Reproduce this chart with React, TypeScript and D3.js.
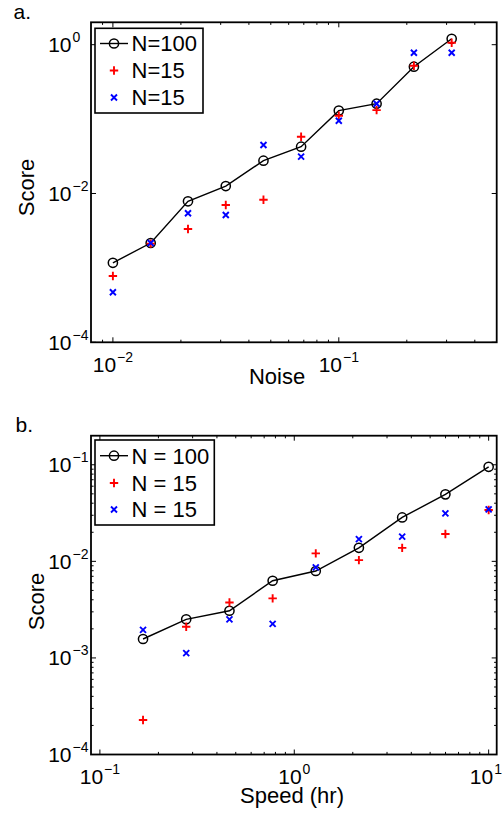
import React from "react";
import * as d3 from "d3";

// ---------- Data ----------
const noiseX = [0.01, 0.0147, 0.0215, 0.0316, 0.0464, 0.0681, 0.1, 0.147, 0.215, 0.316];
const noiseN100 = [1.17e-3, 2.16e-3, 7.85e-3, 0.0126, 0.0276, 0.0426, 0.13, 0.161, 0.506, 1.2];
const noiseN15a = [7.8e-4, 2.12e-3, 3.33e-3, 7.0e-3, 8.26e-3, 0.058, 0.111, 0.132, 0.522, 1.06];
const noiseN15b = [4.7e-4, 2.16e-3, 5.42e-3, 5.14e-3, 0.0449, 0.0313, 0.095, 0.161, 0.78, 0.78];

const speedX = [0.1667, 0.278, 0.464, 0.774, 1.29, 2.15, 3.59, 5.99, 10];
const speedN100 = [1.57e-3, 2.51e-3, 3.08e-3, 6.3e-3, 7.94e-3, 0.0138, 0.0285, 0.0494, 0.0953];
const speedN15a = [2.28e-4, 2.1e-3, 3.75e-3, 4.14e-3, 0.0121, 0.0103, 0.0138, 0.0192, 0.034];
const speedN15b = [1.95e-3, 1.12e-3, 2.51e-3, 2.25e-3, 8.67e-3, 0.017, 0.018, 0.0314, 0.0345];

const topXTicks = [0.01, 0.1];
const topXExp = ["−2", "−1"];
const topYTicks = [1e-4, 1e-2, 1];
const topYExp = ["−4", "−2", "0"];
const botXTicks = [0.1, 1, 10];
const botXExp = ["−1", "0", "1"];
const botYTicks = [1e-4, 1e-3, 1e-2, 1e-1];
const botYExp = ["−4", "−3", "−2", "−1"];

const topLegend = ["N=100", "N=15", "N=15"];
const botLegend = ["N = 100", "N = 15", "N = 15"];

const FONT = "'Liberation Sans', Arial, Helvetica, sans-serif";

function minorTicks(domain: number[]) {
  const out: number[] = [];
  const lo = Math.floor(Math.log10(domain[0]));
  const hi = Math.ceil(Math.log10(domain[1]));
  for (let d = lo; d <= hi; d++) {
    for (let m = 2; m <= 9; m++) {
      const v = m * Math.pow(10, d);
      if (v > domain[0] * 1.0001 && v < domain[1] * 0.9999) out.push(v);
    }
  }
  return out;
}

const charW: Record<string, number> = { "−": 0.584, "0": 0.556, "1": 0.556, "2": 0.556, "3": 0.556, "4": 0.556 };
function expWidth(s: string, fs: number) {
  let w = 0;
  for (const c of s) w += (charW[c] ?? 0.556) * fs;
  return w;
}

type PanelProps = {
  xDomain: number[];
  yDomain: number[];
  box: { l: number; r: number; t: number; b: number };
  xs: number[];
  s100: number[];
  s15a: number[];
  s15b: number[];
  xTicks: number[];
  xExp: string[];
  yTicks: number[];
  yExp: string[];
  yMinor: boolean;
  legend: string[];
  legendBox: { l: number; r: number; t: number; b: number; rows: number[] };
  xLabel: string;
  xLabelPos: [number, number];
  yLabelPos: [number, number];
  tag: string;
  tagPos: [number, number];
};

function Panel(p: PanelProps) {
  const { box } = p;
  const x = d3.scaleLog().domain(p.xDomain).range([box.l, box.r]);
  const y = d3.scaleLog().domain(p.yDomain).range([box.b, box.t]);
  const line = d3
    .line<number>()
    .x((_, i) => x(p.xs[i]))
    .y((v) => y(v));
  const MAJ = 5;
  const MIN = 2.6;
  const xMinor = minorTicks(p.xDomain);
  const yMinor = p.yMinor ? minorTicks(p.yDomain) : [];
  const tickFs = 21;
  const expFs = 14;
  const mainW = 2 * 0.556 * tickFs;

  const plus = (cx: number, cy: number, k: string) => (
    <path key={k} d={`M${cx - 4.2},${cy}H${cx + 4.2}M${cx},${cy - 4.2}V${cy + 4.2}`} stroke="#ff0000" strokeWidth={1.9} fill="none" />
  );
  const cross = (cx: number, cy: number, k: string) => (
    <path key={k} d={`M${cx - 3},${cy - 3}L${cx + 3},${cy + 3}M${cx - 3},${cy + 3}L${cx + 3},${cy - 3}`} stroke="#0000ff" strokeWidth={1.9} fill="none" />
  );
  const circ = (cx: number, cy: number, k: string) => (
    <circle key={k} cx={cx} cy={cy} r={4.6} fill="none" stroke="#000" strokeWidth={1.5} />
  );

  const lb = p.legendBox;
  return (
    <g fontFamily={FONT}>
      <text x={p.tagPos[0]} y={p.tagPos[1]} fontSize={21}>{p.tag}</text>
      {/* ticks */}
      {p.xTicks.map((t, i) => (
        <g key={"xt" + i}>
          <line x1={x(t)} x2={x(t)} y1={box.b} y2={box.b - MAJ} stroke="#000" strokeWidth={1} />
          <line x1={x(t)} x2={x(t)} y1={box.t} y2={box.t + MAJ} stroke="#000" strokeWidth={1} />
        </g>
      ))}
      {xMinor.map((t, i) => (
        <g key={"xm" + i}>
          <line x1={x(t)} x2={x(t)} y1={box.b} y2={box.b - MIN} stroke="#000" strokeWidth={1} />
          <line x1={x(t)} x2={x(t)} y1={box.t} y2={box.t + MIN} stroke="#000" strokeWidth={1} />
        </g>
      ))}
      {p.yTicks.map((t, i) => (
        <g key={"yt" + i}>
          <line x1={box.l} x2={box.l + MAJ} y1={y(t)} y2={y(t)} stroke="#000" strokeWidth={1} />
          <line x1={box.r} x2={box.r - MAJ} y1={y(t)} y2={y(t)} stroke="#000" strokeWidth={1} />
        </g>
      ))}
      {yMinor.map((t, i) => (
        <g key={"ym" + i}>
          <line x1={box.l} x2={box.l + MIN} y1={y(t)} y2={y(t)} stroke="#000" strokeWidth={1} />
          <line x1={box.r} x2={box.r - MIN} y1={y(t)} y2={y(t)} stroke="#000" strokeWidth={1} />
        </g>
      ))}
      {/* tick labels */}
      {p.xTicks.map((t, i) => {
        const ew = expWidth(p.xExp[i], expFs);
        let start = x(t) - (mainW + 1 + ew) / 2;
        const end = start + mainW + 1 + ew;
        if (end > 502) start -= end - 502;
        const base = box.b + 29.5;
        return (
          <g key={"xl" + i}>
            <text x={start} y={base} fontSize={tickFs}>10</text>
            <text x={start + mainW + 1} y={base - 10} fontSize={expFs}>{p.xExp[i]}</text>
          </g>
        );
      })}
      {p.yTicks.map((t, i) => {
        const base = y(t) + 7.5;
        return (
          <g key={"yl" + i}>
            <text x={71.5} y={base} fontSize={tickFs} textAnchor="end">10</text>
            <text x={72.5} y={base - 10} fontSize={expFs}>{p.yExp[i]}</text>
          </g>
        );
      })}
      {/* axis labels */}
      <text x={p.xLabelPos[0]} y={p.xLabelPos[1]} fontSize={22} textAnchor="middle">{p.xLabel}</text>
      <text transform={`translate(${p.yLabelPos[0]},${p.yLabelPos[1]}) rotate(-90)`} fontSize={22} textAnchor="middle">Score</text>
      {/* data */}
      <path d={line(p.s100) || ""} fill="none" stroke="#000" strokeWidth={1.4} />
      {p.s100.map((v, i) => circ(x(p.xs[i]), y(v), "c" + i))}
      {p.s15a.map((v, i) => plus(x(p.xs[i]), y(v), "p" + i))}
      {p.s15b.map((v, i) => cross(x(p.xs[i]), y(v), "x" + i))}
      {/* box */}
      <rect x={box.l} y={box.t} width={box.r - box.l} height={box.b - box.t} fill="none" stroke="#000" strokeWidth={1.8} />
      {/* legend */}
      <rect x={lb.l} y={lb.t} width={lb.r - lb.l} height={lb.b - lb.t} fill="#fff" stroke="#000" strokeWidth={1.6} />
      <line x1={lb.l + 5} x2={lb.l + 33} y1={lb.rows[0]} y2={lb.rows[0]} stroke="#000" strokeWidth={1.4} />
      {circ(lb.l + 19, lb.rows[0], "lc")}
      {plus(lb.l + 19, lb.rows[1], "lp")}
      {cross(lb.l + 19, lb.rows[2], "lx")}
      {p.legend.map((s, i) => (
        <text key={"lt" + i} x={lb.l + 36.5} y={lb.rows[i] + 7.8} fontSize={22}>{s}</text>
      ))}
    </g>
  );
}

export default function App() {
  return (
    <svg width={503} height={813} style={{ position: "absolute", left: 0, top: 0, background: "#fff" }}>
      <rect x={0} y={0} width={503} height={813} fill="#fff" />
      <Panel
        xDomain={[0.008, 0.5]}
        yDomain={[1e-4, 2]}
        box={{ l: 91, r: 496.7, t: 22.3, b: 342.3 }}
        xs={noiseX}
        s100={noiseN100}
        s15a={noiseN15a}
        s15b={noiseN15b}
        xTicks={topXTicks}
        xExp={topXExp}
        yTicks={topYTicks}
        yExp={topYExp}
        yMinor={false}
        legend={topLegend}
        legendBox={{ l: 95, r: 203, t: 28.3, b: 113, rows: [43.5, 70.5, 97.5] }}
        xLabel="Noise"
        xLabelPos={[277, 384]}
        yLabelPos={[33.5, 187.5]}
        tag="a."
        tagPos={[13.5, 18.5]}
      />
      <Panel
        xDomain={[0.09, 11]}
        yDomain={[1e-4, 0.2]}
        box={{ l: 91, r: 496.7, t: 435.7, b: 754.5 }}
        xs={speedX}
        s100={speedN100}
        s15a={speedN15a}
        s15b={speedN15b}
        xTicks={botXTicks}
        xExp={botXExp}
        yTicks={botYTicks}
        yExp={botYExp}
        yMinor={true}
        legend={botLegend}
        legendBox={{ l: 95, r: 214.3, t: 440, b: 525, rows: [455.7, 483, 509.5] }}
        xLabel="Speed (hr)"
        xLabelPos={[292, 803]}
        yLabelPos={[44, 601.5]}
        tag="b."
        tagPos={[15.5, 432]}
      />
    </svg>
  );
}
